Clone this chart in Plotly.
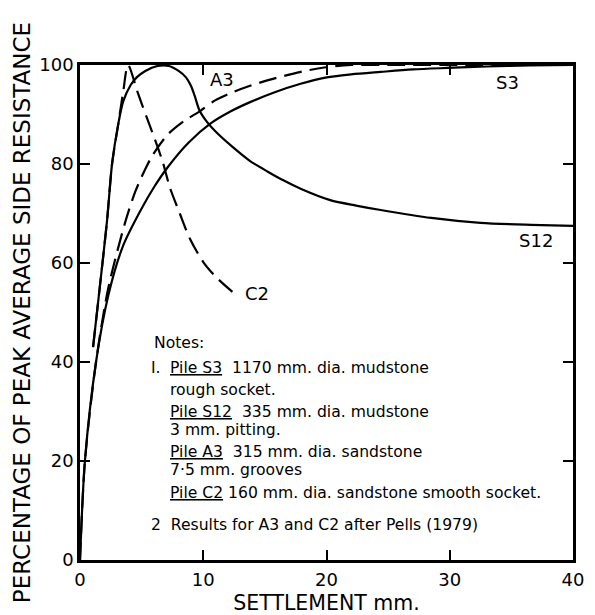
import plotly.graph_objects as go

# ---- data (settlement mm, percentage of peak average side resistance) ----
a3_x = [1.06, 1.6, 2.2, 2.6, 3.1, 3.5, 4.1, 4.6, 5.3, 6.3, 7.2, 8.0, 8.6, 9.0, 9.3, 9.7,
        10.3, 11.1, 12.4, 13.8, 15.2, 16.5, 17.9, 20.3, 22.4, 24.4, 28.5, 32.5, 36.6, 40]
a3_y = [43, 55, 68.7, 80.0, 88.0, 92.6, 95.9, 97.5, 98.8, 99.8, 99.8, 98.8, 97.5, 95.8, 93.8, 90.8,
        88.5, 86.3, 83.4, 80.6, 78.5, 76.7, 75.0, 72.7, 71.6, 70.7, 69.1, 68.1, 67.7, 67.5]

c2_x = [1.06, 1.6, 2.2, 2.6, 3.1, 3.5, 3.9, 4.7, 5.4, 6.1, 6.7, 7.3, 8.1, 8.9, 10.0, 11.1, 12.4]
c2_y = [43, 55, 68.7, 80.0, 88.0, 94.5, 100, 94.3, 89.5, 84.8, 80.5, 75.2, 70, 65, 60.2, 57, 54.1]

s3_x = [0, 0.4, 1.3, 2.3, 3.5, 5.0, 6.0, 7.1, 8.8, 10.6, 12.2, 13.8, 15.8, 17.9, 19.8, 22,
        24.4, 27, 29.8, 33, 36.5, 40]
s3_y = [0, 20, 40, 53.5, 63.5, 71.0, 75.3, 79.3, 84.3, 88.2, 90.6, 92.5, 94.5, 96.2, 97.4, 98.1,
        98.6, 99.1, 99.4, 99.7, 99.9, 100]

s12_x = [0, 0.4, 1.3, 2.3, 3.7, 4.5, 5.3, 5.9, 7.1, 8.4, 9.8, 11.0, 12.4, 13.8, 15.5, 17.9,
         19.8, 22, 26, 32, 40]
s12_y = [0, 20, 40, 55, 68.5, 74.5, 79.0, 81.8, 85.9, 88.6, 90.8, 92.9, 94.5, 95.8, 97.1, 98.6,
         99.5, 100, 100, 100, 100]

x_ticks = [0, 10, 20, 30, 40]
y_ticks = [0, 20, 40, 60, 80, 100]

curve_labels = ["A3", "S3", "S12", "C2"]
label_x = [11.5, 34.7, 37.0, 14.4]
label_y = [97.0, 96.5, 64.6, 53.8]

notes_lines = [
    "Notes:",
    "I.",
    "<u>Pile S3</u>  1170 mm. dia. mudstone",
    "rough socket.",
    "<u>Pile S12</u>  335 mm. dia. mudstone",
    "3 mm. pitting.",
    "<u>Pile A3</u>  315 mm. dia. sandstone",
    "7·5 mm. grooves",
    "<u>Pile C2</u> 160 mm. dia. sandstone smooth socket.",
    "2  Results for A3 and C2 after Pells (1979)",
]
notes_x = [5.84, 5.6, 7.1, 7.1, 7.1, 7.1, 7.1, 7.1, 7.1, 5.6]
notes_y = [43.8, 38.8, 38.8, 34.3, 29.9, 26.3, 21.8, 18.2, 13.5, 7.1]

FONT = "DejaVu Sans"

fig = go.Figure()
solid = dict(color="black", width=2.2, shape="spline", smoothing=0.8)
dashed = dict(color="black", width=2.2, shape="spline", smoothing=0.8, dash="18px,8px")

fig.add_trace(go.Scatter(x=a3_x, y=a3_y, mode="lines", name="A3", line=solid))
fig.add_trace(go.Scatter(x=c2_x, y=c2_y, mode="lines", name="C2", line=dashed))
fig.add_trace(go.Scatter(x=s3_x, y=s3_y, mode="lines", name="S3", line=solid))
fig.add_trace(go.Scatter(x=s12_x, y=s12_y, mode="lines", name="S12", line=dashed))

for t, xx, yy in zip(curve_labels, label_x, label_y):
    fig.add_annotation(x=xx, y=yy, text=t, showarrow=False,
                       font=dict(family=FONT, size=18, color="black"),
                       xanchor="center", yanchor="middle")

for t, xx, yy in zip(notes_lines, notes_x, notes_y):
    fig.add_annotation(x=xx, y=yy, text=t, showarrow=False,
                       font=dict(family=FONT, size=15.6, color="black"),
                       xanchor="left", yanchor="middle", align="left")

axis_common = dict(
    showline=True, linecolor="black", linewidth=2.5, mirror="ticks",
    ticks="inside", ticklen=10, tickwidth=2, tickcolor="black",
    showgrid=False, zeroline=False, automargin=False,
    tickfont=dict(family=FONT, size=18, color="black"),
)

fig.update_layout(
    width=595, height=615, autosize=False,
    margin=dict(l=80, r=22, t=65, b=55),
    paper_bgcolor="white", plot_bgcolor="white",
    showlegend=False,
    xaxis=dict(range=[0, 40], tickvals=x_ticks, ticktext=[str(v) for v in x_ticks],
               ticklabelstandoff=2,
               title=dict(text="SETTLEMENT mm.", standoff=8,
                          font=dict(family=FONT, size=20.5, color="black")),
               **axis_common),
    yaxis=dict(range=[0, 100], tickvals=y_ticks, ticktext=[str(v) for v in y_ticks],
               title=dict(text="PERCENTAGE OF PEAK AVERAGE SIDE RESISTANCE", standoff=3,
                          font=dict(family=FONT, size=23, color="black")),
               **axis_common),
)

fig.write_html("out.html")
